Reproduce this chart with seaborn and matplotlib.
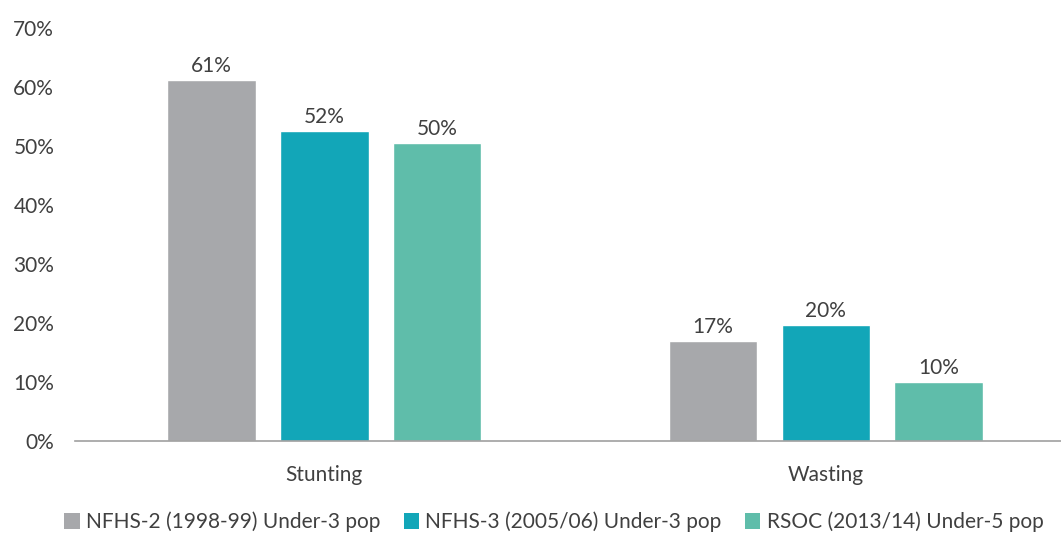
import matplotlib
matplotlib.use("Agg")
import matplotlib.pyplot as plt
import seaborn as sns
import pandas as pd
from matplotlib.patches import Patch

categories = ["Stunting", "Wasting"]
series = ["NFHS-2 (1998-99) Under-3 pop", "NFHS-3 (2005/06) Under-3 pop", "RSOC (2013/14) Under-5 pop"]
nfhs2 = [61.2, 16.9]
nfhs3 = [52.5, 19.6]
rsoc = [50.5, 10.0]
labels_nfhs2 = ["61%", "17%"]
labels_nfhs3 = ["52%", "20%"]
labels_rsoc = ["50%", "10%"]
yticks = [0, 10, 20, 30, 40, 50, 60, 70]
colors = ["#A7A8AB", "#12A6B8", "#5FBDAA"]

rows = []
for s, vals in zip(series, [nfhs2, nfhs3, rsoc]):
    for c, v in zip(categories, vals):
        rows.append({"cat": c, "series": s, "value": v})
df = pd.DataFrame(rows)

sns.set_style("white")
plt.rcParams["font.family"] = ["Lato", "DejaVu Sans"]
txt = "#404040"

fig = plt.figure(figsize=(10.61, 5.35), dpi=100)
ax = fig.add_axes([0.0707, 0.1757, 0.9293, 0.772])
sns.barplot(data=df, x="cat", y="value", hue="series", order=categories,
            hue_order=series, palette=colors, width=0.675, gap=0.216,
            saturation=1, ax=ax, legend=False, errorbar=None)

for cont, labs in zip(ax.containers, [labels_nfhs2, labels_nfhs3, labels_rsoc]):
    ax.bar_label(cont, labels=labs, padding=3, fontsize=15, color=txt)

ax.set_ylim(0, 70)
ax.set_xlim(-0.497, 1.469)
ax.set_yticks(yticks)
ax.set_yticklabels([f"{t}%" for t in yticks])
ax.set_xlabel("")
ax.set_ylabel("")
ax.tick_params(axis="both", length=0, labelsize=15, colors=txt)
ax.tick_params(axis="y", pad=15)
ax.tick_params(axis="x", pad=17)
for sp in ["top", "right", "left"]:
    ax.spines[sp].set_visible(False)
ax.spines["bottom"].set_color("#A0A0A0")
ax.spines["bottom"].set_linewidth(1.2)

handles = [Patch(facecolor=c, edgecolor="none") for c in colors]
fig.legend(handles, series, loc="lower center", bbox_to_anchor=(0.522, -0.03),
           ncol=3, frameon=False, fontsize=15, handlelength=0.75,
           handleheight=0.75, handletextpad=0.3, columnspacing=1.1,
           labelcolor=txt)

fig.savefig("out.png", dpi=100)
